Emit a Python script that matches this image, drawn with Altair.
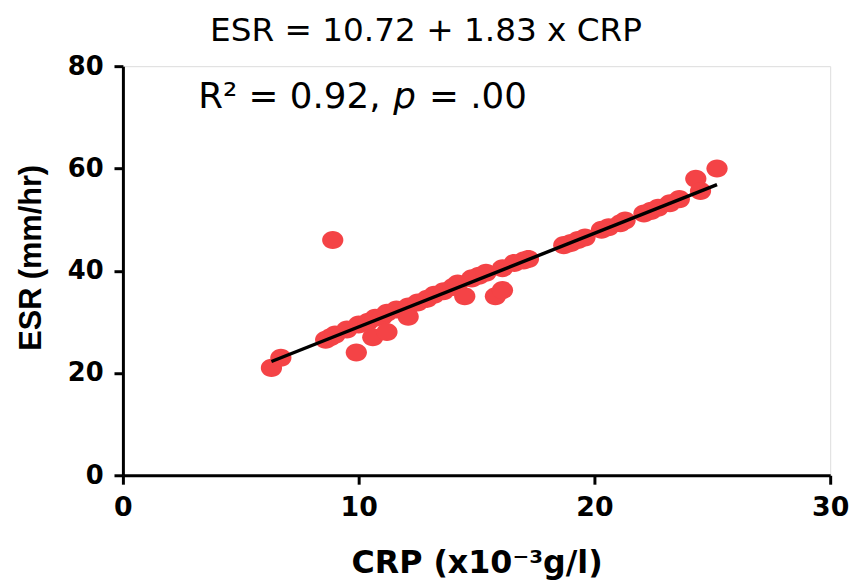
import altair as alt
import pandas as pd

# ---- data ----
crp = [6.3, 6.7, 8.6, 8.8, 8.9, 9.0, 9.5, 9.9, 10.0, 10.4, 10.6, 10.7, 11.0, 11.2, 11.2,
       11.6, 12.1, 12.1, 12.5, 12.9, 13.2, 13.6, 14.0, 14.2, 14.5, 14.8, 15.1, 15.4, 15.8,
       16.1, 16.1, 16.6, 17.0, 17.2, 18.7, 19.0, 19.3, 19.6, 20.3, 20.6, 21.1, 21.3, 22.1,
       22.4, 22.7, 23.2, 23.6, 24.3, 24.5, 25.2]
esr = [21, 23, 26.5, 27, 46, 27.5, 28.5, 24, 29.5, 30, 27, 30.8, 31, 28, 31.8,
       32.4, 33, 31, 33.8, 34.5, 35.3, 36, 36.8, 37.5, 35, 38.5, 39, 39.6, 35,
       36.2, 40.5, 41.5, 42, 42.3, 45, 45.4, 46, 46.5, 48, 48.5, 49.3, 49.8, 51.2,
       51.7, 52.3, 53.2, 54, 58, 55.6, 60]

intercept = 10.72
slope = 1.83

x_ticks = [0, 10, 20, 30]
y_ticks = [0, 20, 40, 60, 80]

title_line = "ESR = 10.72 + 1.83 x CRP"
stat_part1 = "R\u00b2 = 0.92,"
stat_part2 = "p"
stat_part3 = "= .00"
x_title = "CRP (x10\u207b\u00b3g/l)"
y_title = "ESR (mm/hr)"

pts = pd.DataFrame({"CRP": crp, "ESR": esr})
line_x = [min(crp), max(crp)]
line_df = pd.DataFrame({"CRP": line_x, "ESR": [intercept + slope * v for v in line_x]})

W, H = 714, 413

xscale = alt.Scale(domain=[0, 30], nice=False, zero=True)
yscale = alt.Scale(domain=[0, 80], nice=False, zero=True)

xaxis = alt.Axis(values=x_ticks, grid=False, domainWidth=3, domainColor="black",
                 tickWidth=3, tickSize=9, tickColor="black",
                 labelFont="DejaVu Sans", labelFontWeight="bold", labelFontSize=27,
                 labelColor="black", labelPadding=11, labelFlush=False,
                 title=x_title, titleFont="DejaVu Sans", titleFontWeight="bold",
                 titleFontSize=32, titleColor="black", titleY=98,
                 titleBaseline="alphabetic")
yaxis = alt.Axis(values=y_ticks, grid=False, domainWidth=3, domainColor="black",
                 tickWidth=3, tickSize=9, tickColor="black",
                 labelFont="DejaVu Sans", labelFontWeight="bold", labelFontSize=26,
                 labelColor="black", labelPadding=11, labelFlush=False,
                 title=y_title, titleFont="Liberation Sans", titleFontWeight="bold",
                 titleFontSize=31, titleColor="black", titleAngle=270,
                 titleX=-83, titleY=193, titleAlign="center",
                 titleBaseline="alphabetic")

ellipse = "M-1,0 A1,0.85 0 1,1 1,0 A1,0.85 0 1,1 -1,0 Z"

points = alt.Chart(pts).mark_point(
    shape=ellipse, filled=True, size=460, color="#F44346", opacity=1
).encode(
    x=alt.X("CRP:Q", scale=xscale, axis=xaxis),
    y=alt.Y("ESR:Q", scale=yscale, axis=yaxis),
)

fit = alt.Chart(line_df).mark_line(color="black", strokeWidth=3.5).encode(
    x=alt.X("CRP:Q", scale=xscale),
    y=alt.Y("ESR:Q", scale=yscale),
)

def txt(s, x, y, align, size, style="normal"):
    return alt.Chart(pd.DataFrame({"t": [s]})).mark_text(
        font="DejaVu Sans", fontSize=size, color="black", align=align,
        baseline="alphabetic", fontStyle=style, clip=False
    ).encode(x=alt.value(x), y=alt.value(y), text="t:N")

ann1 = txt(title_line, 306, -25, "center", 33)
ann2 = txt(stat_part1, 76, 42, "left", 36)
ann3 = txt(stat_part2, 273, 42, "left", 36, "italic")
ann4 = txt(stat_part3, 309, 42, "left", 36)

chart = alt.layer(points, fit, ann1, ann2, ann3, ann4).properties(
    width=W, height=H,
    autosize=alt.AutoSizeParams(type="none"),
    padding={"left": 116, "top": 56, "right": 20, "bottom": 103},
).configure_view(stroke=None).configure(background="white")

chart.save("out.html", embed_options={"renderer": "svg", "actions": False})
